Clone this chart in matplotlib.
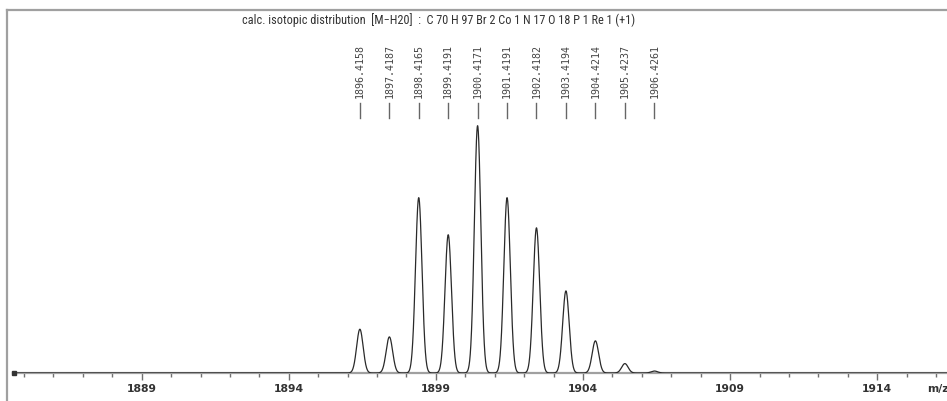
import numpy as np
import matplotlib
matplotlib.use("Agg")
import matplotlib.pyplot as plt
from matplotlib.lines import Line2D
import matplotlib.font_manager as fm

# ---- data ----
peak_mz = [1896.4158, 1897.4187, 1898.4165, 1899.4191, 1900.4171, 1901.4191,
           1902.4182, 1903.4194, 1904.4214, 1905.4237, 1906.4261]
peak_int = [17.7, 14.6, 70.9, 55.9, 100.0, 70.9, 58.7, 33.2, 13.0, 3.8, 0.8]
peak_labels = ["1896.4158", "1897.4187", "1898.4165", "1899.4191", "1900.4171",
               "1901.4191", "1902.4182", "1903.4194", "1904.4214", "1905.4237",
               "1906.4261"]
major_ticks = [1889, 1894, 1899, 1904, 1909, 1914]
title = "calc. isotopic distribution  [M\u2212H20]  :  C 70 H 97 Br 2 Co 1 N 17 O 18 P 1 Re 1 (+1)"
peak_sigma = 0.11

# ---- fonts ----
names = {(f.name, f.stretch) for f in fm.fontManager.ttflist}
narrow_kw = dict(family="DejaVu Sans")
for nm in ["Liberation Sans Narrow", "Roboto Condensed", "Open Sans Condensed"]:
    if any(n == nm for n, s in names):
        narrow_kw = dict(family=nm)
        break
else:
    if any(n == "DejaVu Sans" and s == "condensed" for n, s in names):
        narrow_kw = dict(family="DejaVu Sans", stretch="condensed")

W, H = 947, 401
fig = plt.figure(figsize=(W / 100, H / 100), dpi=100)

# axes: left x=13px, right 947px, bottom baseline y=373px, top y=10px
ax = fig.add_axes([13 / W, (H - 373) / H, (W - 13) / W, (373 - 10) / H])

px_per_unit = 29.42
x0 = 1889 - (141.7 - 13) / px_per_unit
x1 = 1889 + (947 - 141.7) / px_per_unit
ax.set_xlim(x0, x1)
ypx = 247.3 / 100.0
ax.set_ylim(0, (373 - 10) / ypx)

xs = np.linspace(x0, x1, 8000)
ys = np.zeros_like(xs)
for m, a in zip(peak_mz, peak_int):
    ys += a * np.exp(-0.5 * ((xs - m) / peak_sigma) ** 2)
ax.plot(xs, ys, color="#2a2a2a", lw=0.9, zorder=3)

# start marker on baseline
ax.plot([x0 + 0.03], [0], marker="s", ms=2.5, color="#333333", clip_on=False, zorder=4)

for sp in ["left", "right", "top"]:
    ax.spines[sp].set_visible(False)
ax.spines["bottom"].set_color("#a0a0a0")
ax.spines["bottom"].set_linewidth(1.6)
ax.set_yticks([])
ax.set_xticks(major_ticks)
ax.set_xticks(np.arange(1885, 1917, 1), minor=True)
ax.tick_params(axis="x", which="major", length=5, width=1, color="#707070",
               pad=3, labelsize=7.8, labelcolor="#333333")
ax.tick_params(axis="x", which="minor", length=3, width=1, color="#707070")
for lab in ax.get_xticklabels():
    lab.set_fontweight("bold")
    lab.set_family("DejaVu Sans")

# m/z label
fig.text(927 / W, 1 - 389 / H, "m/z", fontsize=7.8, fontweight="bold",
         family="DejaVu Sans", color="#333333", va="center", ha="left")

# peak annotations
def py(ypix):
    return (373 - ypix) / ypx

for m, lab in zip(peak_mz, peak_labels):
    ax.plot([m, m], [py(118), py(103)], color="#666666", lw=1.0, zorder=3)
    ax.text(m, py(98), lab, rotation=90, ha="center", va="bottom",
            fontsize=7.2, color="#444444", family="DejaVu Sans Mono")

# title
fig.text(439 / W, 1 - 20 / H, title, ha="center", va="center", fontsize=8.8,
         color="#333333", **narrow_kw)

# frame lines (left and top)
fig.add_artist(Line2D([7 / W, 7 / W], [0, 1 - 10 / H], transform=fig.transFigure,
                      color="#a0a0a0", lw=1.6))
fig.add_artist(Line2D([7 / W, 1], [1 - 10 / H, 1 - 10 / H], transform=fig.transFigure,
                      color="#a0a0a0", lw=1.6))

fig.savefig("out.png", dpi=100)
